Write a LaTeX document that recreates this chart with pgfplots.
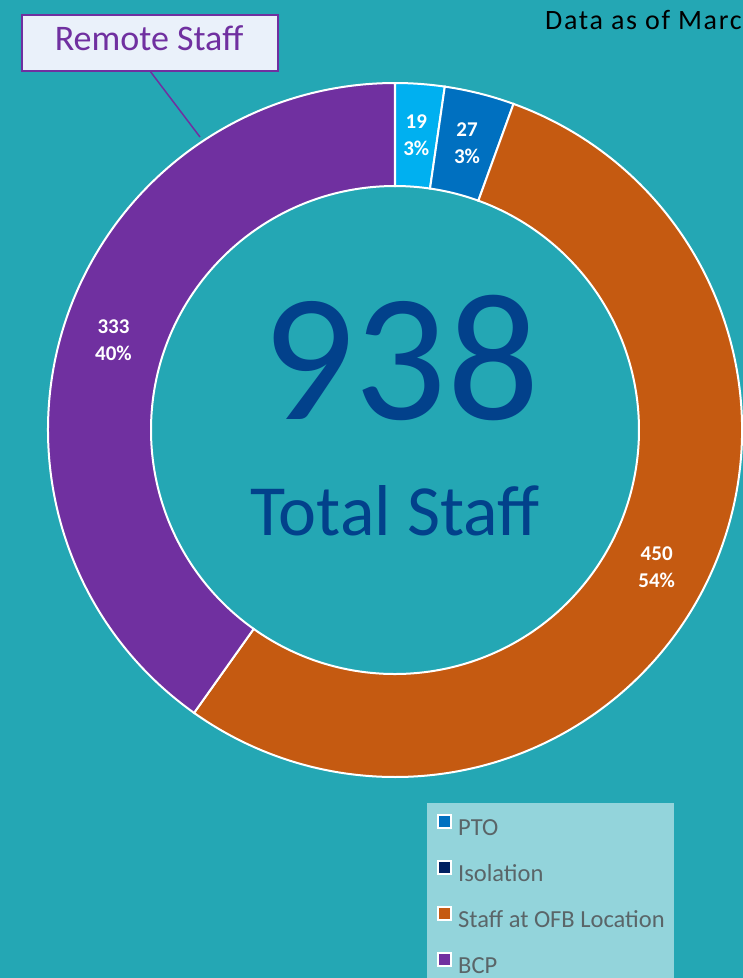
\documentclass[border=0pt]{standalone}
\usepackage{pgfplots}
\pgfplotsset{compat=1.18}
\usepackage{pgfplotstable}
\usetikzlibrary{calc}
\usepackage{fontspec}
\setmainfont{Carlito}
\definecolor{bg}{HTML}{24A7B4}
\definecolor{ptoc}{HTML}{00B0F0}
\definecolor{isoc}{HTML}{0070C0}
\definecolor{ofbc}{HTML}{C55A11}
\definecolor{bcpc}{HTML}{7030A0}
\definecolor{ptoleg}{HTML}{0070C0}
\definecolor{isoleg}{HTML}{002060}
\definecolor{centerc}{HTML}{02418B}
\definecolor{boxfill}{HTML}{EAF1FA}
\definecolor{legbg}{HTML}{93D4DB}
\definecolor{legtext}{HTML}{5A6568}

\pgfplotstableread{
name value pct
PTO 19 3
Isolation 27 3
OFB 450 54
BCP 333 40
}\staffdata

\newcommand\donutwedge[3]{%
  \fill[#3, draw=white, line width=2pt] (axis cs:395,430) ++(#1:347pt)
    arc[start angle=#1, end angle=#2, radius=347pt] -- ++({#2+180}:103pt)
    arc[start angle=#2, end angle=#1, radius=244pt] -- cycle;}
\newcommand\legsq[1]{\draw[fill=#1, draw=white, line width=2pt] (0.5pt,1pt) rectangle (13.5pt,14pt);}

\begin{document}
\begin{tikzpicture}[x=1pt,y=1pt]
\useasboundingbox (0,0) rectangle (743,978);
\clip (0,0) rectangle (743,978);
\fill[bg] (0,0) rectangle (743,978);
\pgfplotstablegetelem{0}{value}\of\staffdata \let\vA\pgfplotsretval
\pgfplotstablegetelem{1}{value}\of\staffdata \let\vB\pgfplotsretval
\pgfplotstablegetelem{2}{value}\of\staffdata \let\vC\pgfplotsretval
\pgfplotstablegetelem{3}{value}\of\staffdata \let\vD\pgfplotsretval
\pgfplotstablegetelem{0}{pct}\of\staffdata \let\pA\pgfplotsretval
\pgfplotstablegetelem{1}{pct}\of\staffdata \let\pB\pgfplotsretval
\pgfplotstablegetelem{2}{pct}\of\staffdata \let\pC\pgfplotsretval
\pgfplotstablegetelem{3}{pct}\of\staffdata \let\pD\pgfplotsretval
\pgfmathsetmacro\tot{\vA+\vB+\vC+\vD}
\pgfmathsetmacro\aA{90}
\pgfmathsetmacro\aB{\aA-360*(\vA/\tot)}
\pgfmathsetmacro\aC{\aB-360*(\vB/\tot)}
\pgfmathsetmacro\aD{\aC-360*(\vC/\tot)}
\pgfmathsetmacro\aE{\aD-360*(\vD/\tot)}
\pgfmathsetmacro\mA{(\aA+\aB)/2}
\pgfmathsetmacro\mB{(\aB+\aC)/2}
\pgfmathsetmacro\mC{(\aC+\aD)/2}
\pgfmathsetmacro\mD{(\aD+\aE)/2}
\begin{axis}[
  at={(0,0)}, anchor=south west,
  scale only axis, width=743pt, height=978pt,
  xmin=0, xmax=743, ymin=0, ymax=978, y dir=reverse,
  hide axis, clip=false,
  legend style={at={(axis cs:437,813.9)}, anchor=north west, draw=none, fill=none,
    inner sep=0pt, font=\fontsize{24.5}{28}\selectfont, text=legtext,
    nodes={inner sep=0pt, text height=17pt, text depth=5pt},
    row sep=20pt, /tikz/every odd column/.append style={column sep=6pt}},
  legend cell align=left,
]
% legend background
\fill[legbg] (axis cs:427,803) rectangle (axis cs:674,990);
% donut wedges
\donutwedge{\aA}{\aB}{ptoc}
\donutwedge{\aB}{\aC}{isoc}
\donutwedge{\aC}{\aD}{ofbc}
\donutwedge{\aD}{\aE}{bcpc}
% data labels
\tikzset{dl/.style={text=white, font=\bfseries\fontsize{21}{26.5}\selectfont, align=center, inner sep=0pt}}
\node[dl] at ($(axis cs:395,430)+(\mA:295.5pt)$) {\vA\\\pA\%};
\node[dl] at ($(axis cs:395,430)+(\mB:295.5pt)$) {\vB\\\pB\%};
\node[dl] at ($(axis cs:395,430)+(\mC:295.5pt)$) {\vC\\\pC\%};
\node[dl] at ($(axis cs:395,430)+(\mD:295.5pt)$) {\vD\\\pD\%};
% centre text
\node[text=centerc, inner sep=0pt, font=\fontsize{182}{182}\selectfont] at (axis cs:401,357.5) {938};
\node[text=centerc, inner sep=0pt, anchor=base, font=\fontsize{72}{72}\selectfont] at (axis cs:395,535) {Total Staff};
% callout
\draw[bcpc, line width=1.5pt] (axis cs:150,71) -- (axis cs:200,137);
\node[fill=boxfill, draw=bcpc, line width=1.5pt, minimum width=256pt, minimum height=56pt, inner sep=0pt] at (axis cs:150,43) {};
\node[anchor=base, inner sep=0pt, text=bcpc, font=\fontsize{36}{36}\selectfont] at (axis cs:149,50) {Remote Staff};
\node[anchor=base west, inner sep=0pt, text=black, font=\fontsize{28}{28}\selectfont\addfontfeatures{LetterSpace=6}] at (axis cs:545,29.5) {Data as of March 2020};
% legend
\addlegendimage{legend image code/.code={\legsq{ptoleg}}}
\addlegendentry{PTO}
\addlegendimage{legend image code/.code={\legsq{isoleg}}}
\addlegendentry{Isolation}
\addlegendimage{legend image code/.code={\legsq{ofbc}}}
\addlegendentry{Staff at OFB Location}
\addlegendimage{legend image code/.code={\legsq{bcpc}}}
\addlegendentry{BCP}
\end{axis}
\end{tikzpicture}
\end{document}
